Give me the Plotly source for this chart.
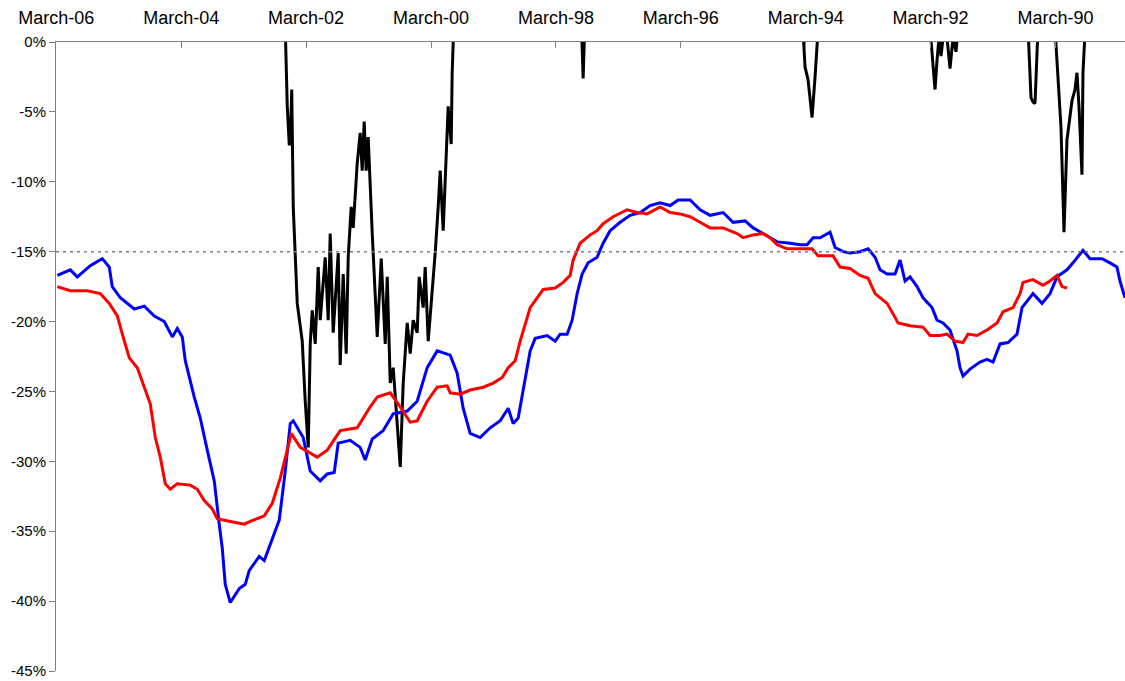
import plotly.graph_objects as go

# x values are decimal years (left = March 2006, axis runs back in time)
blue_x = [2006.154, 2005.946, 2005.834, 2005.626, 2005.434, 2005.322, 2005.274, 2005.145, 2004.921, 2004.761,
          2004.601, 2004.441, 2004.313, 2004.233, 2004.153, 2004.105, 2003.961, 2003.865, 2003.753, 2003.641,
          2003.561, 2003.513, 2003.465, 2003.385, 2003.240, 2003.144, 2003.080, 2002.920, 2002.840, 2002.680,
          2002.600, 2002.504, 2002.424, 2002.376, 2002.216, 2002.104, 2002.056, 2001.944, 2001.832, 2001.720,
          2001.656, 2001.464, 2001.304, 2001.224, 2001.111, 2000.935, 2000.775, 2000.551, 2000.391, 2000.231,
          2000.071, 1999.863, 1999.751, 1999.655, 1999.543, 1999.383, 1999.222, 1999.062, 1998.934, 1998.854,
          1998.774, 1998.710, 1998.630, 1998.582, 1998.502, 1998.310, 1998.182, 1998.102, 1997.990, 1997.910,
          1997.830, 1997.750, 1997.654, 1997.510, 1997.414, 1997.302, 1997.141, 1996.981, 1996.821, 1996.661,
          1996.501, 1996.341, 1996.213, 1996.021, 1995.861, 1995.701, 1995.493, 1995.333, 1995.140, 1995.012,
          1994.852, 1994.628, 1994.420, 1994.260, 1994.148, 1994.052, 1993.940, 1993.780, 1993.700, 1993.572,
          1993.460, 1993.300, 1993.171, 1993.059, 1992.979, 1992.867, 1992.739, 1992.659, 1992.579, 1992.499,
          1992.387, 1992.291, 1992.147, 1992.067, 1991.971, 1991.859, 1991.747, 1991.699, 1991.651, 1991.539,
          1991.379, 1991.267, 1991.170, 1991.058, 1990.930, 1990.786, 1990.706, 1990.530, 1990.386, 1990.258,
          1990.146, 1989.986, 1989.890, 1989.730, 1989.618, 1989.426, 1989.298, 1989.186, 1989.137, 1989.057]
blue_y = [-16.7, -16.3, -16.8, -16.0, -15.5, -16.1, -17.5, -18.3, -19.1, -18.9,
          -19.6, -20.0, -21.1, -20.5, -21.1, -22.8, -25.4, -26.9, -29.2, -31.4,
          -34.5, -36.2, -38.8, -40.1, -39.1, -38.8, -37.8, -36.8, -37.1, -35.2,
          -34.2, -30.7, -27.3, -27.1, -28.3, -30.7, -30.9, -31.4, -30.9, -30.8,
          -28.7, -28.5, -29.0, -29.9, -28.4, -27.8, -26.6, -26.4, -25.7, -23.3,
          -22.1, -22.4, -23.7, -26.2, -28.0, -28.3, -27.6, -27.1, -26.2, -27.3,
          -26.9, -25.3, -23.5, -22.1, -21.2, -21.0, -21.4, -20.9, -20.9, -19.9,
          -18.0, -16.6, -15.8, -15.4, -14.4, -13.5, -12.9, -12.4, -12.2, -11.7,
          -11.5, -11.7, -11.3, -11.3, -12.0, -12.4, -12.2, -12.9, -12.8, -13.3,
          -13.7, -14.3, -14.4, -14.5, -14.5, -14.0, -14.0, -13.6, -14.7, -15.0,
          -15.1, -15.0, -14.8, -15.4, -16.3, -16.6, -16.6, -15.6, -17.1, -16.8,
          -17.5, -18.3, -19.0, -19.9, -20.1, -20.6, -22.1, -23.3, -23.9, -23.4,
          -22.9, -22.7, -22.9, -21.6, -21.5, -20.9, -19.0, -18.0, -18.7, -18.0,
          -16.8, -16.3, -15.8, -14.9, -15.5, -15.5, -15.8, -16.1, -17.1, -18.3]

red_x = [2006.154, 2005.946, 2005.674, 2005.466, 2005.322, 2005.193, 2005.113, 2005.001, 2004.873, 2004.745,
         2004.665, 2004.585, 2004.505, 2004.425, 2004.345, 2004.233, 2004.025, 2003.913, 2003.801, 2003.673,
         2003.593, 2003.385, 2003.160, 2003.064, 2002.840, 2002.712, 2002.584, 2002.472, 2002.408, 2002.264,
         2002.104, 2001.992, 2001.832, 2001.624, 2001.352, 2001.143, 2001.031, 2000.823, 2000.663, 2000.503,
         2000.391, 2000.231, 2000.071, 1999.911, 1999.863, 1999.703, 1999.543, 1999.335, 1999.174, 1999.030,
         1998.934, 1998.822, 1998.742, 1998.662, 1998.582, 1998.470, 1998.374, 1998.182, 1998.054, 1997.942,
         1997.894, 1997.782, 1997.622, 1997.510, 1997.414, 1997.253, 1997.029, 1996.869, 1996.709, 1996.501,
         1996.341, 1996.181, 1996.021, 1995.861, 1995.701, 1995.493, 1995.268, 1995.172, 1995.012, 1994.852,
         1994.740, 1994.628, 1994.468, 1994.260, 1994.068, 1993.972, 1993.732, 1993.620, 1993.460, 1993.300,
         1993.171, 1993.059, 1992.867, 1992.739, 1992.691, 1992.499, 1992.291, 1992.179, 1992.019, 1991.907,
         1991.779, 1991.651, 1991.571, 1991.427, 1991.267, 1991.106, 1991.010, 1990.850, 1990.738, 1990.690,
         1990.530, 1990.370, 1990.258, 1990.146, 1990.066, 1989.986]
red_y = [-17.5, -17.8, -17.8, -18.0, -18.7, -19.6, -20.9, -22.6, -23.3, -24.9,
         -25.9, -28.3, -29.7, -31.6, -32.0, -31.6, -31.7, -32.0, -32.8, -33.4,
         -34.1, -34.3, -34.5, -34.3, -33.9, -33.0, -31.2, -29.2, -28.0, -29.0,
         -29.4, -29.7, -29.2, -27.8, -27.6, -26.1, -25.4, -25.1, -26.1, -27.2,
         -27.1, -25.7, -24.7, -24.6, -25.1, -25.2, -24.9, -24.7, -24.4, -24.0,
         -23.3, -22.8, -21.4, -20.1, -19.0, -18.3, -17.7, -17.6, -17.2, -16.7,
         -15.6, -14.4, -13.8, -13.5, -13.0, -12.5, -12.0, -12.2, -12.3, -11.8,
         -12.2, -12.3, -12.5, -12.9, -13.3, -13.3, -13.7, -14.0, -13.8, -13.7,
         -14.0, -14.5, -14.8, -14.8, -14.8, -15.3, -15.3, -16.1, -16.2, -16.7,
         -16.9, -18.0, -18.7, -19.7, -20.1, -20.3, -20.4, -21.0, -21.0, -20.9,
         -21.4, -21.5, -20.9, -21.0, -20.6, -20.1, -19.3, -19.0, -18.0, -17.2,
         -17.0, -17.4, -17.1, -16.7, -17.5, -17.6]

# black series: positive values lie above the 0% top of the axis (clipped)
black_x = [2006.154, 2002.520, 2002.504, 2002.472, 2002.440, 2002.424, 2002.400, 2002.376, 2002.312, 2002.232,
           2002.184, 2002.136, 2002.104, 2002.072, 2002.024, 2001.976, 2001.944, 2001.864, 2001.816, 2001.784,
           2001.736, 2001.656, 2001.624, 2001.576, 2001.528, 2001.496, 2001.448, 2001.416, 2001.352, 2001.304,
           2001.272, 2001.240, 2001.208, 2001.176, 2001.111, 2001.063, 2001.031, 2000.967, 2000.903, 2000.871,
           2000.823, 2000.775, 2000.711, 2000.663, 2000.615, 2000.551, 2000.503, 2000.455, 2000.391, 2000.359,
           2000.295, 2000.263, 2000.215, 2000.151, 2000.103, 2000.055, 2000.023, 1999.975, 1999.943, 1999.895,
           1999.847, 1999.831, 1999.799, 1997.766, 1997.734, 1997.702, 1994.228, 1994.180, 1994.132, 1994.068,
           1994.020, 1993.956, 1992.179, 1992.131, 1992.099, 1992.067, 1992.035, 1992.003, 1991.971, 1991.907,
           1991.859, 1991.811, 1991.763, 1991.731, 1990.610, 1990.562, 1990.530, 1990.498, 1990.450, 1990.178,
           1990.082, 1990.034, 1989.986, 1989.906, 1989.858, 1989.826, 1989.794, 1989.746, 1989.730, 1989.682,
           1989.057]
black_y = [3.0, 3.0, 1.0, -4.6, -7.3, -7.3, -3.4, -11.8, -18.7, -21.4,
           -25.7, -29.0, -21.6, -19.2, -21.6, -16.1, -19.9, -15.4, -19.9, -13.7,
           -20.8, -15.1, -23.1, -16.6, -22.3, -15.4, -11.8, -13.3, -8.7, -6.5,
           -9.2, -5.7, -9.2, -6.8, -13.7, -18.0, -21.1, -15.5, -21.6, -16.8,
           -24.4, -23.3, -27.3, -30.4, -24.4, -20.1, -22.3, -19.9, -20.8, -16.8,
           -19.0, -16.1, -21.4, -18.0, -15.1, -11.8, -9.2, -13.5, -9.4, -4.6,
           -7.3, -2.2, 2.0, 2.0, -2.6, 2.0, 2.0, -1.8, -2.7, -5.4,
           -2.5, 2.0, 1.0, -1.8, -3.4, -1.3, 0.3, -1.0, 0.3, 0.3,
           -1.9, 0.3, -0.7, 1.0, 1.0, -4.0, -4.3, -4.4, 1.0, 1.0,
           -6.1, -13.6, -7.0, -4.2, -3.4, -2.2, -4.6, -9.5, -2.2, 2.0,
           2.0]

REF_LEVEL = -15

x_tickvals = [2006.17, 2004.17, 2002.17, 2000.17, 1998.17, 1996.17, 1994.17, 1992.17, 1990.17]
x_ticktext = ["March-06", "March-04", "March-02", "March-00", "March-98",
              "March-96", "March-94", "March-92", "March-90"]
y_tickvals = [0, -5, -10, -15, -20, -25, -30, -35, -40, -45]
y_ticktext = ["0%", "-5%", "-10%", "-15%", "-20%", "-25%", "-30%", "-35%", "-40%", "-45%"]

fig = go.Figure()
fig.add_trace(go.Scatter(x=black_x, y=black_y, mode="lines",
                         line=dict(color="#000000", width=3), showlegend=False))
fig.add_trace(go.Scatter(x=blue_x, y=blue_y, mode="lines",
                         line=dict(color="#0000FF", width=3), showlegend=False))
fig.add_trace(go.Scatter(x=red_x, y=red_y, mode="lines",
                         line=dict(color="#FF0000", width=3), showlegend=False))
fig.add_hline(y=REF_LEVEL, line=dict(color="#808080", width=1.5, dash="3px,4px"))

fig.update_layout(
    width=1125, height=681,
    margin=dict(l=56, r=0, t=42, b=10, autoexpand=False),
    plot_bgcolor="white", paper_bgcolor="white",
    font=dict(family="Liberation Sans, Arial, sans-serif", color="black"),
)
fig.update_xaxes(
    range=[2006.175, 1989.057], side="top", automargin=False,
    tickvals=x_tickvals, ticktext=x_ticktext,
    ticks="inside", ticklen=6, tickcolor="#808080", tickwidth=1,
    showline=True, linecolor="#808080", linewidth=1,
    showgrid=False, zeroline=False,
    tickfont=dict(size=18), ticklabelstandoff=10,
)
fig.update_yaxes(
    range=[-45, 0], automargin=False,
    tickvals=y_tickvals, ticktext=y_ticktext,
    ticks="outside", ticklen=6, tickcolor="#808080", tickwidth=1,
    showline=True, linecolor="#808080", linewidth=1,
    showgrid=False, zeroline=False,
    tickfont=dict(size=15),
)

fig.write_html("out.html", config={"displayModeBar": False},
               post_script="document.body.style.margin='0';")
